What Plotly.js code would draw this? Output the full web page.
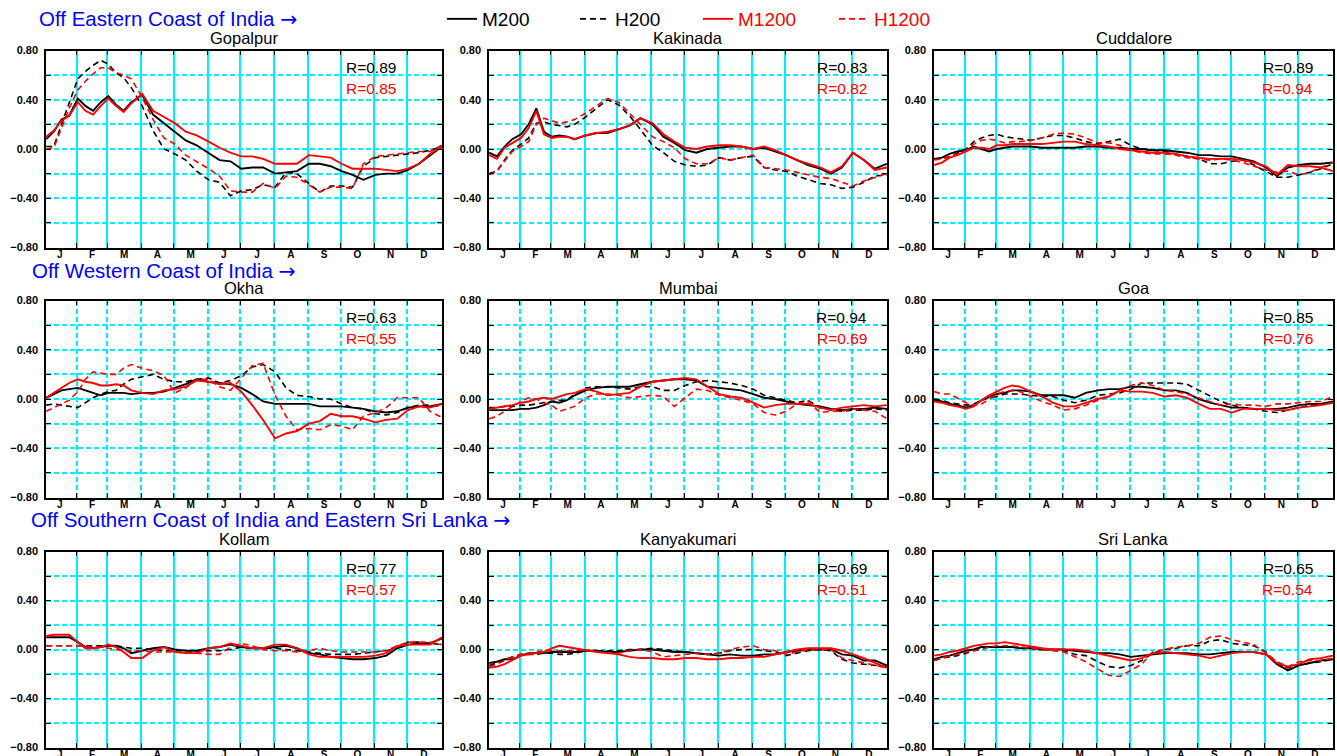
<!DOCTYPE html>
<html>
<head>
<meta charset="utf-8">
<script src="https://cdn.plot.ly/plotly-3.0.1.min.js"></script>
<style>
html,body{margin:0;padding:0;background:#ffffff;}
#chart{width:1337px;height:756px;}
</style>
</head>
<body>
<div id="chart"></div>
<script>
// ---------------- DATA ----------------
// day of year (0-based) at which the curves were read
const DAYS = [3,10,17,24,32,39,46,53,60,67,74,81,91,101,111,121,131,141,152,162,172,182,192,202,213,223,233,244,254,264,274,284,294,305,315,325,335,345,355,366];
const MONTH_STARTS = [31,59,90,120,151,181,212,243,273,304,334];
const MONTH_CENTERS = [15.5,45,74.5,105,135.5,166,196.5,227.5,258,288.5,319,349.5];
const MONTH_LABELS = ['J','F','M','A','M','J','J','A','S','O','N','D'];
const Y_TICKS = [-0.8,-0.6,-0.4,-0.2,0,0.2,0.4,0.6,0.8];
const Y_LABELS = ['\u22120.80','','\u22120.40','','0.00','','0.40','','0.80'];
const Y_GRID = [-0.6,-0.4,-0.2,0,0.2,0.4,0.6];

const STATIONS = ['Gopalpur','Kakinada','Cuddalore','Okha','Mumbai','Goa','Kollam','Kanyakumari','Sri Lanka'];
const SECTIONS = ['Off Eastern Coast of India','Off Western Coast of India','Off Southern Coast of India and Eastern Sri Lanka'];
const SERIES_NAMES = ['M200','H200','M1200','H1200'];
const R_200 = [0.89,0.83,0.89,0.63,0.94,0.85,0.77,0.69,0.65];
const R_1200 = [0.85,0.82,0.94,0.55,0.69,0.76,0.57,0.51,0.54];

const GOPALPUR_M200 = [0.08,0.14,0.24,0.27,0.41,0.35,0.31,0.38,0.43,0.36,0.31,0.38,0.44,0.28,0.21,0.14,0.07,0.03,-0.03,-0.09,-0.10,-0.16,-0.15,-0.15,-0.20,-0.19,-0.18,-0.12,-0.12,-0.14,-0.18,-0.21,-0.25,-0.21,-0.20,-0.20,-0.17,-0.12,-0.05,0.02];
const GOPALPUR_H200 = [0.02,0.02,0.20,0.37,0.57,0.63,0.68,0.72,0.69,0.62,0.58,0.50,0.35,0.15,0.00,-0.04,-0.09,-0.18,-0.25,-0.27,-0.38,-0.34,-0.33,-0.29,-0.31,-0.19,-0.20,-0.28,-0.35,-0.30,-0.30,-0.31,-0.14,-0.07,-0.06,-0.05,-0.04,-0.03,-0.01,0.02];
const GOPALPUR_M1200 = [0.10,0.15,0.23,0.27,0.38,0.31,0.28,0.35,0.41,0.35,0.30,0.37,0.45,0.31,0.26,0.21,0.14,0.11,0.06,0.01,-0.03,-0.06,-0.06,-0.08,-0.12,-0.12,-0.12,-0.05,-0.06,-0.07,-0.12,-0.16,-0.16,-0.16,-0.17,-0.18,-0.16,-0.12,-0.04,0.02];
const GOPALPUR_H1200 = [0.00,0.01,0.17,0.33,0.48,0.55,0.61,0.66,0.66,0.62,0.60,0.57,0.42,0.24,0.09,0.04,-0.05,-0.10,-0.16,-0.22,-0.34,-0.35,-0.35,-0.28,-0.32,-0.22,-0.23,-0.29,-0.35,-0.31,-0.31,-0.32,-0.12,-0.06,-0.05,-0.04,-0.03,-0.02,-0.02,0.03];

const KAKINADA_M200 = [-0.03,-0.06,0.02,0.08,0.12,0.20,0.33,0.14,0.10,0.11,0.10,0.08,0.11,0.13,0.13,0.16,0.19,0.25,0.20,0.10,0.05,-0.01,-0.03,0.00,0.01,0.02,0.02,0.00,0.01,-0.02,-0.05,-0.09,-0.13,-0.16,-0.20,-0.15,-0.03,-0.09,-0.16,-0.12];
const KAKINADA_H200 = [-0.20,-0.18,-0.09,-0.01,0.04,0.09,0.21,0.22,0.20,0.19,0.18,0.20,0.26,0.33,0.40,0.36,0.27,0.16,0.03,-0.03,-0.10,-0.13,-0.14,-0.13,-0.07,-0.09,-0.07,-0.06,-0.15,-0.17,-0.18,-0.22,-0.25,-0.28,-0.29,-0.32,-0.31,-0.27,-0.22,-0.21];
const KAKINADA_M1200 = [-0.05,-0.08,0.01,0.05,0.09,0.17,0.31,0.12,0.09,0.10,0.10,0.08,0.11,0.13,0.14,0.16,0.19,0.25,0.21,0.12,0.06,0.01,0.00,0.02,0.03,0.03,0.02,0.00,0.02,-0.01,-0.05,-0.09,-0.12,-0.15,-0.19,-0.14,-0.03,-0.09,-0.17,-0.15];
const KAKINADA_H1200 = [-0.21,-0.18,-0.10,-0.02,0.02,0.06,0.20,0.25,0.23,0.21,0.22,0.24,0.29,0.35,0.41,0.38,0.29,0.20,0.10,0.06,0.01,-0.08,-0.12,-0.12,-0.07,-0.09,-0.07,-0.05,-0.15,-0.16,-0.17,-0.19,-0.21,-0.23,-0.24,-0.27,-0.30,-0.26,-0.23,-0.20];

const CUDDALORE_M200 = [-0.08,-0.07,-0.04,-0.02,-0.01,0.02,0.00,-0.02,0.00,0.01,0.02,0.02,0.02,0.01,0.01,0.01,0.01,0.02,0.02,0.01,0.01,0.00,0.00,-0.01,-0.01,-0.02,-0.03,-0.05,-0.05,-0.06,-0.06,-0.08,-0.10,-0.15,-0.22,-0.15,-0.13,-0.12,-0.12,-0.11];
const CUDDALORE_H200 = [-0.08,-0.08,-0.06,-0.03,0.00,0.06,0.09,0.11,0.12,0.10,0.09,0.08,0.07,0.09,0.11,0.11,0.09,0.06,0.04,0.06,0.08,0.03,0.00,-0.01,-0.02,-0.04,-0.06,-0.08,-0.12,-0.12,-0.10,-0.09,-0.13,-0.18,-0.23,-0.23,-0.21,-0.19,-0.16,-0.12];
const CUDDALORE_M1200 = [-0.13,-0.11,-0.07,-0.05,-0.02,0.01,0.01,0.00,0.03,0.03,0.04,0.04,0.04,0.04,0.05,0.06,0.06,0.04,0.03,0.02,0.00,-0.01,-0.02,-0.03,-0.03,-0.04,-0.06,-0.07,-0.08,-0.08,-0.08,-0.09,-0.11,-0.14,-0.21,-0.13,-0.14,-0.14,-0.15,-0.18];
const CUDDALORE_H1200 = [-0.09,-0.08,-0.06,-0.04,-0.01,0.04,0.07,0.08,0.07,0.05,0.06,0.06,0.07,0.09,0.12,0.13,0.12,0.09,0.05,0.05,0.03,-0.01,-0.03,-0.04,-0.04,-0.05,-0.07,-0.08,-0.09,-0.08,-0.09,-0.11,-0.14,-0.17,-0.19,-0.18,-0.21,-0.19,-0.15,-0.11];

const OKHA_M200 = [0.01,0.04,0.07,0.08,0.09,0.07,0.05,0.03,0.05,0.05,0.05,0.04,0.05,0.05,0.06,0.09,0.12,0.16,0.14,0.13,0.12,0.09,0.04,-0.02,-0.04,-0.04,-0.04,-0.04,-0.06,-0.06,-0.06,-0.07,-0.08,-0.10,-0.11,-0.10,-0.07,-0.06,-0.06,-0.04];
const OKHA_H200 = [-0.05,-0.04,-0.05,-0.06,-0.07,-0.03,0.01,0.04,0.06,0.07,0.12,0.16,0.18,0.20,0.16,0.14,0.14,0.16,0.17,0.13,0.15,0.19,0.26,0.28,0.22,0.09,0.03,0.02,0.00,0.00,-0.04,-0.07,-0.08,-0.12,-0.13,-0.11,-0.07,-0.05,-0.05,-0.06];
const OKHA_M1200 = [0.01,0.05,0.09,0.13,0.16,0.14,0.13,0.11,0.11,0.12,0.11,0.07,0.05,0.04,0.07,0.08,0.10,0.15,0.14,0.12,0.13,0.06,-0.05,-0.17,-0.32,-0.28,-0.26,-0.20,-0.18,-0.12,-0.14,-0.14,-0.16,-0.19,-0.17,-0.16,-0.09,-0.06,-0.07,-0.04];
const OKHA_H1200 = [-0.10,-0.07,-0.04,-0.01,0.06,0.16,0.22,0.21,0.20,0.20,0.25,0.28,0.25,0.23,0.19,0.05,0.09,0.16,0.16,0.10,0.07,0.17,0.27,0.29,0.03,-0.14,-0.25,-0.24,-0.25,-0.21,-0.22,-0.25,-0.14,-0.11,-0.07,0.01,0.01,0.01,-0.10,-0.15];

const MUMBAI_M200 = [-0.09,-0.09,-0.09,-0.09,-0.08,-0.08,-0.07,-0.05,-0.02,-0.03,-0.01,0.03,0.07,0.09,0.10,0.10,0.10,0.12,0.14,0.15,0.16,0.16,0.15,0.10,0.09,0.08,0.07,0.04,0.01,0.00,-0.02,-0.04,-0.05,-0.06,-0.08,-0.09,-0.08,-0.08,-0.07,-0.08];
const MUMBAI_H200 = [-0.07,-0.07,-0.06,-0.06,-0.05,-0.05,-0.04,-0.03,-0.02,-0.01,-0.01,0.04,0.09,0.10,0.10,0.09,0.08,0.10,0.10,0.07,0.07,0.11,0.14,0.15,0.14,0.13,0.11,0.08,0.03,0.01,-0.01,-0.03,-0.01,-0.07,-0.09,-0.10,-0.09,-0.09,-0.08,-0.09];
const MUMBAI_M1200 = [-0.08,-0.07,-0.06,-0.05,-0.03,-0.02,0.00,0.01,0.00,0.02,0.04,0.05,0.08,0.06,0.03,0.04,0.05,0.10,0.14,0.15,0.16,0.17,0.16,0.10,0.04,0.02,0.01,-0.03,-0.07,-0.05,-0.04,-0.04,-0.04,-0.07,-0.09,-0.07,-0.06,-0.05,-0.06,-0.05];
const MUMBAI_H1200 = [-0.16,-0.14,-0.10,-0.06,-0.02,0.01,0.00,-0.03,-0.05,-0.10,-0.08,-0.06,0.01,0.04,0.04,0.03,0.01,0.02,0.03,0.02,-0.06,0.01,0.08,0.07,0.03,0.01,-0.01,-0.04,-0.11,-0.13,-0.10,-0.04,-0.02,-0.11,-0.10,-0.10,-0.08,-0.09,-0.10,-0.16];

const GOA_M200 = [-0.01,-0.02,-0.04,-0.05,-0.07,-0.05,-0.01,0.02,0.04,0.05,0.07,0.07,0.06,0.03,0.03,0.03,0.01,0.05,0.07,0.08,0.08,0.10,0.10,0.09,0.07,0.07,0.05,0.00,-0.03,-0.05,-0.07,-0.07,-0.08,-0.08,-0.08,-0.07,-0.05,-0.04,-0.04,-0.02];
const GOA_H200 = [0.00,-0.01,-0.03,-0.04,-0.05,-0.04,-0.01,0.01,0.02,0.04,0.04,0.04,0.03,0.02,0.02,-0.01,-0.03,-0.01,0.03,0.04,0.05,0.08,0.13,0.13,0.13,0.13,0.12,0.07,0.02,-0.02,-0.05,-0.07,-0.08,-0.10,-0.11,-0.09,-0.07,-0.05,-0.04,-0.03];
const GOA_M1200 = [-0.02,-0.03,-0.05,-0.06,-0.08,-0.06,-0.01,0.03,0.06,0.09,0.11,0.10,0.06,0.02,-0.03,-0.06,-0.06,-0.03,0.00,0.02,0.07,0.06,0.06,0.05,0.02,0.03,0.01,-0.04,-0.08,-0.08,-0.11,-0.08,-0.08,-0.08,-0.09,-0.09,-0.07,-0.06,-0.05,-0.03];
const GOA_H1200 = [0.06,0.04,0.04,0.01,-0.03,-0.05,-0.04,0.00,0.04,0.06,0.07,0.06,0.02,-0.02,-0.05,-0.09,-0.08,-0.05,-0.01,0.02,0.07,0.11,0.13,0.11,0.07,0.06,0.04,0.01,-0.02,-0.05,-0.04,-0.05,-0.05,-0.06,-0.04,-0.04,-0.03,-0.02,-0.02,0.02];

const KOLLAM_M200 = [0.10,0.10,0.10,0.10,0.06,0.02,0.01,0.02,0.03,0.03,0.01,-0.03,-0.01,0.01,0.02,0.00,-0.01,-0.01,0.01,0.02,0.04,0.02,0.01,0.01,0.02,0.03,0.01,-0.03,-0.04,-0.06,-0.07,-0.08,-0.08,-0.07,-0.05,0.01,0.04,0.05,0.05,0.09];
const KOLLAM_H200 = [0.03,0.03,0.03,0.03,0.03,0.03,0.03,0.03,0.03,0.03,0.02,0.01,0.01,0.00,-0.01,-0.01,-0.01,-0.02,-0.01,-0.01,0.00,0.02,0.01,0.01,0.01,0.00,-0.01,-0.02,-0.03,-0.04,-0.04,-0.04,-0.03,-0.02,-0.01,0.01,0.06,0.06,0.05,0.04];
const KOLLAM_M1200 = [0.11,0.12,0.12,0.12,0.06,0.01,0.01,0.02,0.04,0.02,-0.02,-0.07,-0.07,-0.01,0.02,-0.02,-0.03,-0.03,0.01,0.02,0.05,0.03,0.01,0.01,0.04,0.04,0.01,-0.04,-0.06,-0.06,-0.06,-0.06,-0.06,-0.05,-0.03,0.03,0.04,0.04,0.04,0.10];
const KOLLAM_H1200 = [0.03,0.03,0.03,0.03,0.03,0.03,0.02,0.02,0.01,0.00,-0.01,-0.01,-0.01,-0.02,-0.02,-0.02,-0.02,-0.03,-0.04,-0.04,0.02,0.05,0.03,0.00,-0.01,-0.01,-0.02,-0.01,0.01,-0.01,-0.02,-0.02,-0.02,-0.02,-0.01,0.03,0.06,0.06,0.06,0.04];

const KANYAKUMARI_M200 = [-0.11,-0.10,-0.08,-0.08,-0.05,-0.03,-0.03,-0.03,-0.02,-0.02,-0.02,-0.02,-0.01,-0.01,-0.02,-0.02,-0.01,0.00,0.00,-0.01,-0.02,-0.02,-0.03,-0.04,-0.05,-0.04,-0.05,-0.05,-0.04,-0.04,-0.02,-0.01,0.00,0.00,0.00,-0.04,-0.05,-0.09,-0.09,-0.13];
const KANYAKUMARI_H200 = [-0.13,-0.11,-0.08,-0.06,-0.04,-0.04,-0.04,-0.03,-0.03,-0.04,-0.04,-0.03,-0.01,-0.01,-0.01,-0.01,0.00,0.00,0.01,0.00,-0.01,-0.02,-0.03,-0.04,-0.03,-0.01,0.00,0.00,-0.01,-0.02,-0.05,-0.03,-0.01,0.00,-0.01,-0.08,-0.11,-0.12,-0.13,-0.14];
const KANYAKUMARI_M1200 = [-0.15,-0.14,-0.12,-0.09,-0.05,-0.04,-0.03,-0.02,0.01,0.03,0.02,0.01,-0.01,-0.02,-0.03,-0.04,-0.06,-0.07,-0.07,-0.08,-0.08,-0.07,-0.07,-0.08,-0.08,-0.07,-0.07,-0.06,-0.06,-0.04,-0.02,0.00,0.01,0.01,0.01,-0.01,-0.04,-0.07,-0.11,-0.15];
const KANYAKUMARI_H1200 = [-0.14,-0.12,-0.09,-0.06,-0.04,-0.03,-0.02,-0.01,-0.01,-0.01,-0.01,-0.01,0.00,-0.02,-0.03,-0.03,-0.01,0.00,-0.02,-0.06,-0.05,-0.04,-0.03,-0.04,-0.03,0.00,0.02,0.03,0.00,-0.01,-0.04,-0.02,0.00,0.00,0.00,-0.07,-0.09,-0.11,-0.13,-0.15];

const SRILANKA_M200 = [-0.08,-0.06,-0.05,-0.03,-0.01,0.00,0.02,0.02,0.02,0.02,0.02,0.01,0.01,0.00,0.00,0.00,-0.01,-0.02,-0.03,-0.03,-0.04,-0.06,-0.05,-0.04,-0.03,-0.03,-0.03,-0.04,-0.04,-0.03,-0.02,-0.02,-0.02,-0.04,-0.12,-0.17,-0.13,-0.11,-0.09,-0.08];
const SRILANKA_H200 = [-0.09,-0.07,-0.06,-0.05,-0.03,-0.01,0.02,0.02,0.02,0.02,0.02,0.02,0.01,0.00,0.00,-0.01,-0.04,-0.05,-0.10,-0.14,-0.15,-0.13,-0.09,-0.03,0.00,0.01,0.03,0.03,0.07,0.08,0.05,0.04,0.03,-0.02,-0.11,-0.15,-0.13,-0.11,-0.10,-0.08];
const SRILANKA_M1200 = [-0.05,-0.04,-0.02,-0.01,0.01,0.03,0.04,0.05,0.05,0.06,0.05,0.04,0.02,0.01,0.00,0.00,0.00,-0.01,-0.03,-0.05,-0.07,-0.09,-0.07,-0.03,-0.02,-0.03,-0.04,-0.05,-0.07,-0.05,-0.03,-0.02,-0.02,-0.04,-0.11,-0.14,-0.12,-0.08,-0.07,-0.05];
const SRILANKA_H1200 = [-0.09,-0.07,-0.05,-0.04,-0.02,-0.01,0.00,0.02,0.03,0.03,0.03,0.02,0.01,0.00,-0.01,-0.02,-0.06,-0.10,-0.16,-0.21,-0.22,-0.17,-0.12,-0.02,0.00,0.02,0.03,0.05,0.10,0.11,0.08,0.06,0.04,-0.03,-0.10,-0.14,-0.10,-0.09,-0.09,-0.07];

// ---------------- BUILD ----------------
const SERIES = [
  [GOPALPUR_M200, GOPALPUR_H200, GOPALPUR_M1200, GOPALPUR_H1200],
  [KAKINADA_M200, KAKINADA_H200, KAKINADA_M1200, KAKINADA_H1200],
  [CUDDALORE_M200, CUDDALORE_H200, CUDDALORE_M1200, CUDDALORE_H1200],
  [OKHA_M200, OKHA_H200, OKHA_M1200, OKHA_H1200],
  [MUMBAI_M200, MUMBAI_H200, MUMBAI_M1200, MUMBAI_H1200],
  [GOA_M200, GOA_H200, GOA_M1200, GOA_H1200],
  [KOLLAM_M200, KOLLAM_H200, KOLLAM_M1200, KOLLAM_H1200],
  [KANYAKUMARI_M200, KANYAKUMARI_H200, KANYAKUMARI_M1200, KANYAKUMARI_H1200],
  [SRILANKA_M200, SRILANKA_H200, SRILANKA_M1200, SRILANKA_H1200]
];

const W = 1337, H = 756;
const CYAN = '#00eeff';
const RED = '#ff0000';
const FONT = 'Liberation Sans, Arial, sans-serif';
const COLS = [[46,442],[489,887],[934,1333]];
const ROWS = [[50.5,247.5],[300.5,497.5],[551.5,747.5]];
const STYLES = [
  {color:'#000000', dash:'solid', width:1.9},
  {color:'#000000', dash:'6px,4px', width:1.6},
  {color:RED, dash:'solid', width:1.9},
  {color:RED, dash:'6px,4px', width:1.6}
];
const LEGEND_IDS = ['legend','legend2','legend3','legend4'];
const LEGEND_X = [442, 575, 698, 834];
const LEGEND_TEXT_COLORS = ['#000000','#000000',RED,RED];

const traces = [];
const layout = {
  width: W, height: H, autosize: false,
  margin: {l:0, r:0, t:0, b:0, pad:0},
  paper_bgcolor: '#ffffff', plot_bgcolor: '#ffffff',
  showlegend: true,
  annotations: [],
  font: {family: FONT}
};
for (let s = 0; s < 4; s++) {
  layout[LEGEND_IDS[s]] = {
    orientation: 'h', x: LEGEND_X[s] / W, xanchor: 'left', y: 1, yanchor: 'top',
    font: {family: FONT, size: 19, color: LEGEND_TEXT_COLORS[s]},
    bgcolor: 'rgba(0,0,0,0)', borderwidth: 0, itemwidth: 30
  };
}

for (let i = 0; i < 9; i++) {
  const r = Math.floor(i / 3), c = i % 3;
  const k = i === 0 ? '' : String(i + 1);
  const xd = [COLS[c][0] / W, COLS[c][1] / W];
  const yd = [1 - ROWS[r][1] / H, 1 - ROWS[r][0] / H];
  layout['xaxis' + k] = {
    domain: xd, anchor: 'y' + k,
    range: [2.8, 366.1], fixedrange: true,
    tickmode: 'array', tickvals: MONTH_CENTERS, ticktext: MONTH_LABELS,
    ticks: '', showgrid: false, zeroline: false,
    showline: true, linecolor: '#000000', linewidth: 1.5, mirror: 'ticks',
    tickfont: {family: FONT, size: 10, color: '#000000', weight: 'bold'},
    ticklabelstandoff: -3,
    minor: {
      tickmode: 'array', tickvals: MONTH_STARTS,
      ticks: 'inside', ticklen: 5, tickcolor: '#000000', tickwidth: 1,
      showgrid: true, gridcolor: CYAN, gridwidth: 2,
      griddash: r === 1 ? '5px,3px' : 'solid'
    }
  };
  layout['yaxis' + k] = {
    domain: yd, anchor: 'x' + k,
    range: [-0.8, 0.8], fixedrange: true,
    tickmode: 'array', tickvals: Y_TICKS, ticktext: Y_LABELS,
    ticks: 'inside', ticklen: 5, tickcolor: '#000000', tickwidth: 1,
    showgrid: false, zeroline: false,
    minor: {
      tickmode: 'array', tickvals: Y_GRID, ticks: '',
      showgrid: true, gridcolor: CYAN, gridwidth: 2, griddash: '5px,3px'
    },
    showline: true, linecolor: '#000000', linewidth: 1.5, mirror: 'ticks',
    tickfont: {family: FONT, size: 11, color: '#000000', weight: 'bold'},
    ticklabelstandoff: 4
  };
  for (let s = 0; s < 4; s++) {
    traces.push({
      type: 'scatter', mode: 'lines',
      x: DAYS, y: SERIES[i][s],
      xaxis: 'x' + k, yaxis: 'y' + k,
      name: SERIES_NAMES[s], legend: LEGEND_IDS[s],
      showlegend: i === 0,
      line: {color: STYLES[s].color, dash: STYLES[s].dash, width: STYLES[s].width},
      hoverinfo: 'skip'
    });
  }
  layout.annotations.push({
    text: STATIONS[i], xref: 'x' + k + ' domain', yref: 'y' + k + ' domain',
    x: 0.5, y: 1, xanchor: 'center', yanchor: 'middle', yshift: 13,
    showarrow: false, font: {family: FONT, size: 16.5, color: '#000000'}
  });
  const xs = c === 0 ? -44 : -18;
  layout.annotations.push({
    text: 'R=' + R_200[i].toFixed(2), xref: 'x' + k + ' domain', yref: 'y' + k + ' domain',
    x: 1, y: 1, xanchor: 'right', yanchor: 'middle', xshift: xs, yshift: -17,
    showarrow: false, font: {family: FONT, size: 15.5, color: '#000000'}
  });
  layout.annotations.push({
    text: 'R=' + R_1200[i].toFixed(2), xref: 'x' + k + ' domain', yref: 'y' + k + ' domain',
    x: 1, y: 1, xanchor: 'right', yanchor: 'middle', xshift: xs, yshift: -38,
    showarrow: false, font: {family: FONT, size: 15.5, color: RED}
  });
}

const SECTION_POS = [[38, 19.3], [31, 270.5], [30, 520]];
for (let j = 0; j < 3; j++) {
  layout.annotations.push({
    text: SECTIONS[j] + ' <span style="font-family:\'DejaVu Sans\'">\u2192</span>',
    xref: 'paper', yref: 'paper',
    x: SECTION_POS[j][0] / W, y: 1 - SECTION_POS[j][1] / H,
    xanchor: 'left', yanchor: 'middle', showarrow: false, borderpad: 0,
    font: {family: FONT, size: 20.5, color: '#0000ff'}
  });
}

Plotly.newPlot('chart', traces, layout, {displayModeBar: false, responsive: false});
</script>
</body>
</html>
